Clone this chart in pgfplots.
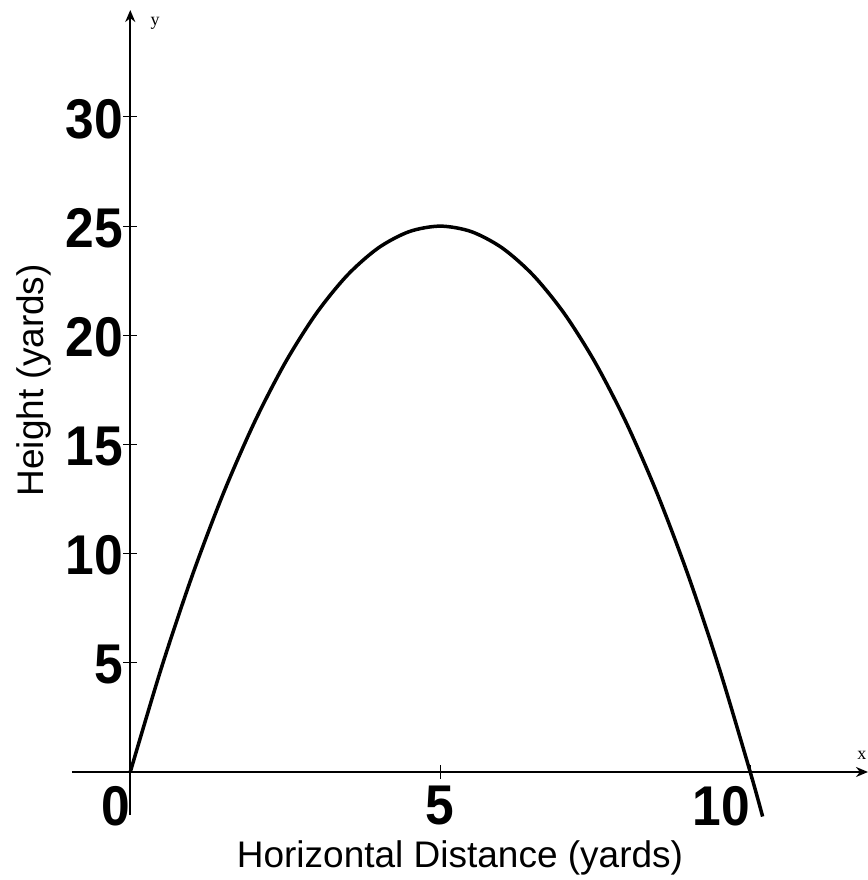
\documentclass[border=0pt]{standalone}
\usepackage{fontspec}
\setmainfont{Liberation Sans}
\newfontfamily\tickfont[FakeStretch=0.92]{Liberation Sans}
\newfontfamily\seriffont{Liberation Serif}
\usepackage{pgfplots}
\pgfplotsset{compat=1.18}
\usetikzlibrary{arrows.meta}
\begin{document}
\begin{tikzpicture}
\begin{axis}[
  scale only axis, width=796pt, height=805pt,
  at={(0pt,0pt)}, anchor=south west,
  xmin=-0.94, xmax=11.9, ymin=-1.97, ymax=34.9,
  axis lines=middle,
  hide obscured x ticks=false,
  axis line style={line width=2pt, -{Stealth[length=12pt,width=10pt]}},
  xtick={0,5,10},
  xticklabels={\makebox[0pt][r]{0},5,\makebox[0pt][r]{10}},
  ytick={5,10,15,20,25,30},
  yticklabels={5,10,15,20,25,30},
  tick style={line width=1pt, black},
  major tick length=14pt,
  tick align=center,
  ticklabel style={font=\tickfont\bfseries\fontsize{56}{60}\selectfont, inner sep=0pt},
  xticklabel style={anchor=north, yshift=-7pt},
  yticklabel style={anchor=east, xshift=0pt, yshift=-2pt},
  xlabel={Horizontal Distance (yards)},
  ylabel={Height (yards)},
  every axis x label/.style={at={(axis description cs:0.4874,-0.0646)}, anchor=base, font=\fontsize{37}{40}\selectfont},
  every axis y label/.style={at={(axis description cs:-0.0364,0.540)}, anchor=base, rotate=90, font=\fontsize{37}{40}\selectfont},
  clip=false,
]
\addplot[black, line width=3.5pt, smooth] coordinates {
  (0,0) (0.5,4.75) (1,9) (1.5,12.75) (2,16) (2.5,18.75) (3,21) (3.5,22.75)
  (4,24) (4.5,24.75) (5,25) (5.5,24.75) (6,24) (6.5,22.75) (7,21)
  (7.5,18.75) (8,16) (8.5,12.75) (9,9) (9.5,4.75) (10,0) (10.2,-2.04)
};
\node[font=\seriffont\fontsize{18}{20}\selectfont] at (axis cs:0.4,34.3) {y};
\node[font=\seriffont\fontsize{18}{20}\selectfont] at (axis cs:11.8,0.78) {x};
\end{axis}
\pgfresetboundingbox
\useasboundingbox (-72pt,-65pt) rectangle (795pt,815pt);
\end{tikzpicture}
\end{document}
